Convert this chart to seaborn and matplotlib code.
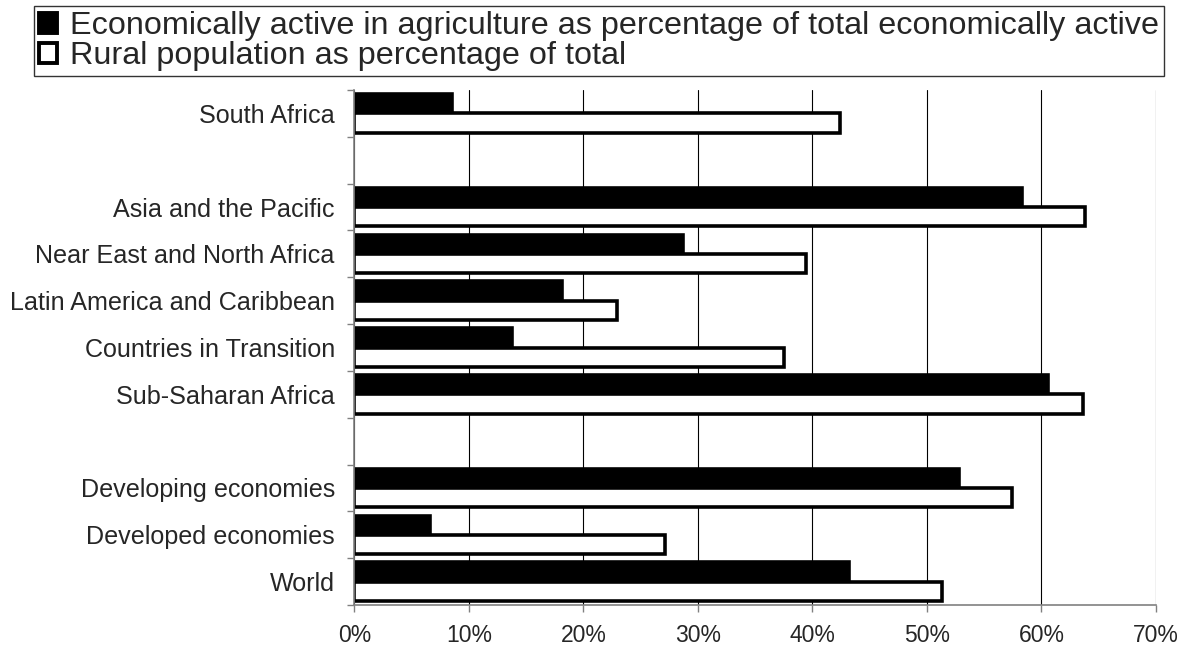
# Rural population vs. agricultural workforce, by region (horizontal grouped bars).

import pandas as pd
import seaborn as sns
import matplotlib.pyplot as plt
from matplotlib.patches import Patch
from matplotlib.ticker import PercentFormatter


# Chart values (percent).
regions = ['South Africa', 'Asia and the Pacific', 'Near East and North Africa',
           'Latin America and Caribbean', 'Countries in Transition', 'Sub-Saharan Africa',
           'Developing economies', 'Developed economies', 'World']
agri_active = [8.5, 58.3, 28.7, 18.1, 13.8, 60.6, 52.8, 6.6, 43.2]
rural_pop = [42.4, 63.8, 39.4, 22.9, 37.5, 63.6, 57.4, 27.1, 51.3]
series = ['Economically active in agriculture as percentage of total economically active',
          'Rural population as percentage of total']
x_ticks = [0, 10, 20, 30, 40, 50, 60, 70]

# Row order from top to bottom, the gap entries stay empty.
row_order = ['South Africa', '_gap1', 'Asia and the Pacific', 'Near East and North Africa',
             'Latin America and Caribbean', 'Countries in Transition', 'Sub-Saharan Africa',
             '_gap2', 'Developing economies', 'Developed economies', 'World']

# Long-form table for seaborn.
df = pd.DataFrame({
    'region': regions * 2,
    'value': agri_active + rural_pop,
    'series': [series[0]] * len(regions) + [series[1]] * len(regions),
})

sns.set_style('white')
plt.rcParams['font.family'] = ['Liberation Sans', 'DejaVu Sans']

fig = plt.figure(figsize=(11.96, 6.48), dpi=100)
ax = fig.add_axes([354.3 / 1196, 1 - 605 / 648, (1156 - 354.3) / 1196, (605 - 90) / 648])

ax.grid(axis='x', color='black', linewidth=0.8)
ax.set_axisbelow(True)

palette = {series[0]: 'black', series[1]: 'white'}
sns.barplot(data=df, x='value', y='region', hue='series', order=row_order,
            hue_order=series, palette=palette, orient='h', width=0.82,
            edgecolor='black', linewidth=2.6, ax=ax, legend=False)

# Axes styling.
ax.set_xlim(0, 70)
ax.set_xticks(x_ticks)
ax.xaxis.set_major_formatter(PercentFormatter(decimals=0))
ax.set_xlabel('')
ax.set_ylabel('')
ax.set_yticks(range(len(row_order)))
ax.set_yticklabels(['' if r.startswith('_gap') else r for r in row_order])
ax.set_yticks([i - 0.5 for i in range(len(row_order) + 1)], minor=True)
ax.tick_params(axis='y', which='major', length=0, pad=14, labelsize=18.1)
ax.tick_params(axis='y', which='minor', left=True, length=5, width=1, color='#808080')
ax.tick_params(axis='x', bottom=True, length=5, width=1, color='#808080', pad=9, labelsize=16.5)

for side in ['top', 'right']:
    ax.spines[side].set_visible(False)
for side in ['left', 'bottom']:
    ax.spines[side].set_color('#808080')
    ax.spines[side].set_linewidth(1.2)

# Legend in a box above the plot.
handles = [Patch(facecolor=palette[s], edgecolor='black', linewidth=2.8) for s in series]
leg = fig.legend(handles, series, loc='upper left', bbox_to_anchor=(34 / 1196, 1 - 6 / 648),
                 frameon=True, fancybox=False, edgecolor='black', fontsize=23.3,
                 borderpad=0.16, labelspacing=0.0, handlelength=0.56, handleheight=0.56,
                 handletextpad=0.38, borderaxespad=0)
leg.get_frame().set_linewidth(1.0)

plt.savefig('out.png', dpi=100)
